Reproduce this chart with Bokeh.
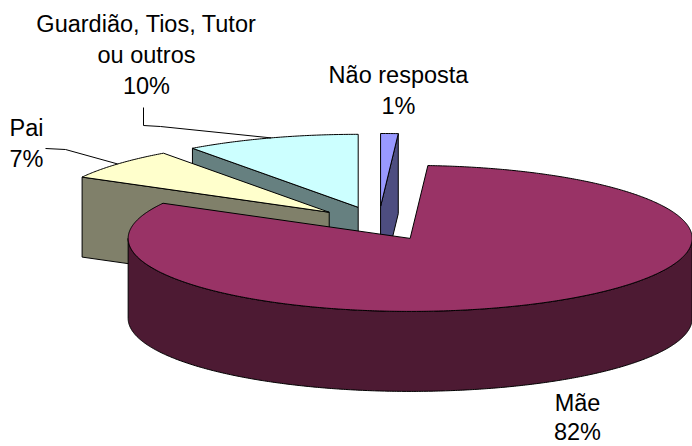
import numpy as np
from bokeh.plotting import figure
from bokeh.models import Range1d
from bokeh.core.properties import value
from bokeh.embed import file_html
from bokeh.resources import INLINE

# ---------------- data ----------------
categories = ["Não resposta", "Mãe", "Pai", "Guardião, Tios, Tutor ou outros"]
percent = [1, 82, 7, 10]
label_lines = [["Não resposta"], ["Mãe"], ["Pai"], ["Guardião, Tios, Tutor", "ou outros"]]
top_colors = ["#9999FF", "#993366", "#FFFFCC", "#CCFFFF"]
side_colors = ["#4D4D80", "#4D1A33", "#80806A", "#668080"]

# ---------------- layout / style ----------------
W, H = 692, 446
CX, CY = 378.0, 223.0      # pie centre (page pixels)
RX, RY = 282.0, 73.0       # projected radii
DEPTH = 80.0               # thickness of the pie
EXPLODE = 0.233            # explosion, fraction of radius
START = 90.0               # first slice starts at 12 o'clock, clockwise
LABEL_POS = {0: (398, 74), 1: (577, 402), 2: (26, 127), 3: (146, 23)}
LINE_STEP = {0: 31, 1: 29, 2: 31, 3: 31}
LEADER_ELBOWS = {3: [(143, 107), (143, 125), (160, 126)], 2: [(45, 148), (65, 149)]}
FONT = "Liberation Sans"
FONT_SIZE = "23.5px"

p = figure(width=W, height=H, x_range=Range1d(0, W), y_range=Range1d(H, 0),
           output_backend="svg", toolbar_location=None, min_border=0,
           x_axis_type=None, y_axis_type=None, background_fill_color="white")
p.grid.visible = False
p.outline_line_color = None


def scr(X, Y):
    return CX + RX * np.asarray(X), CY - RY * np.asarray(Y)


total = float(sum(percent))
slices = []
cum = 0.0
for i, v in enumerate(percent):
    a0 = START - 360.0 * cum / total          # CCW end
    a1 = a0 - 360.0 * v / total               # CCW start
    cum += v
    mid = np.radians((a0 + a1) / 2.0)
    ox, oy = EXPLODE * np.cos(mid), EXPLODE * np.sin(mid)
    slices.append(dict(i=i, a0=a0, a1=a1, mid=mid, ox=ox, oy=oy))

face_xs, face_ys, face_fill = [], [], []


def add_face(xs, ys, color):
    face_xs.append(list(map(float, xs)))
    face_ys.append(list(map(float, ys)))
    face_fill.append(color)


def radial_face(s, th):
    t = np.radians(th)
    X = [s["ox"], s["ox"] + np.cos(t), s["ox"] + np.cos(t), s["ox"]]
    Y = [s["oy"], s["oy"] + np.sin(t), s["oy"] + np.sin(t), s["oy"]]
    xs, ys = scr(X, Y)
    return xs, ys + np.array([0, 0, DEPTH, DEPTH])


for s in sorted(slices, key=lambda s: -np.sin(s["mid"])):
    i = s["i"]
    a0, a1 = s["a0"], s["a1"]
    # radial side faces that look toward the viewer
    if np.cos(np.radians(a1)) > 1e-6:
        xs, ys = radial_face(s, a1)
        add_face(xs, ys, side_colors[i])
    if np.cos(np.radians(a0)) < -1e-6:
        xs, ys = radial_face(s, a0)
        add_face(xs, ys, side_colors[i])
    # outer curved face (front half only)
    for k in range(-1, 3):
        f0, f1 = 180 + 360 * k, 360 + 360 * k
        u0, u1 = max(a1, f0), min(a0, f1)
        if u1 - u0 > 0.01:
            th = np.radians(np.linspace(u0, u1, int((u1 - u0) * 2) + 2))
            xt, yt = scr(s["ox"] + np.cos(th), s["oy"] + np.sin(th))
            xs = np.concatenate([xt, xt[::-1]])
            ys = np.concatenate([yt, (yt + DEPTH)[::-1]])
            add_face(xs, ys, side_colors[i])
    # top face
    th = np.radians(np.linspace(a1, a0, max(int((a0 - a1) * 2), 2) + 1))
    X = np.concatenate([[s["ox"]], s["ox"] + np.cos(th)])
    Y = np.concatenate([[s["oy"]], s["oy"] + np.sin(th)])
    xs, ys = scr(X, Y)
    add_face(xs, ys, top_colors[i])

p.patches(face_xs, face_ys, fill_color=face_fill, line_color="black", line_width=1)

# leader lines to the arc at the slice bisector
lx, ly = [], []
for i, pts in LEADER_ELBOWS.items():
    s = slices[i]
    ex, ey = scr(s["ox"] + np.cos(s["mid"]), s["oy"] + np.sin(s["mid"]))
    lx.append([q[0] for q in pts] + [float(ex)])
    ly.append([q[1] for q in pts] + [float(ey)])
p.multi_line(lx, ly, line_color="black", line_width=1)

# labels
tx, ty, tt = [], [], []
for i in range(len(categories)):
    x0, y0 = LABEL_POS[i]
    lines = label_lines[i] + [f"{percent[i]}%"]
    for j, t in enumerate(lines):
        tx.append(x0)
        ty.append(y0 + j * LINE_STEP[i])
        tt.append(t)
p.text(x=tx, y=ty, text=tt, text_align="center", text_baseline="alphabetic",
       text_font=value(FONT), text_font_size=FONT_SIZE, text_color="black")

open("out.html", "w").write(file_html(p, INLINE))
